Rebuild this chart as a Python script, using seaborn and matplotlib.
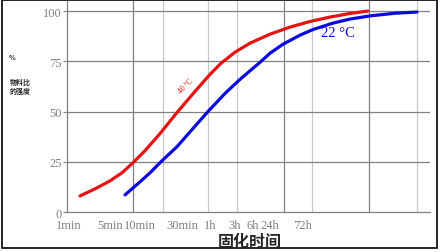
import matplotlib
matplotlib.use("Agg")
import matplotlib.pyplot as plt
import seaborn as sns
import pandas as pd
from matplotlib.patches import Rectangle

# ---- data (x in chart position units along the time axis) ----
red_x = [13, 28, 43, 55, 66, 78, 93, 110, 128, 143, 154, 168, 183, 203, 223, 243, 263, 283, 301]
red_y = [8, 11.5, 15.5, 19.5, 24.5, 30.5, 39, 49.5, 60, 68.5, 74, 79.5, 84, 88.5, 92, 94.8, 97, 98.8, 100]
blue_x = [58, 73, 83, 95, 110, 125, 141, 158, 173, 193, 203, 216, 233, 246, 266, 283, 303, 328, 350]
blue_y = [8.5, 15, 19.5, 25.5, 32.5, 41, 50, 59, 66, 74.5, 79, 83.5, 88, 90.8, 94, 96, 97.6, 98.9, 99.5]

tick_pos = [2, 43, 73, 115, 143, 168, 186, 203, 236]
tick_labels = ["1min", "5min", "10min", "30min", "1h", "3h", "6h", "24h", "72h"]
grid_dark = [66, 217, 302]
grid_light = [96, 141, 170, 245, 350]
y_ticks = [0, 25, 50, 75, 100]

df = pd.concat([
    pd.DataFrame({"x": red_x, "y": red_y, "s": "40 °C"}),
    pd.DataFrame({"x": blue_x, "y": blue_y, "s": "22 °C"}),
])

sns.set_style("white")
plt.rcParams["font.family"] = ["Liberation Serif", "Noto Sans CJK SC", "DejaVu Sans"]

fig = plt.figure(figsize=(4.42, 2.53), dpi=100)
ax = fig.add_axes([67 / 442, 1 - 213 / 253, 363 / 442, 211 / 253])

gray = "#808080"
light = "#c8c8c8"
for g in grid_light:
    ax.axvline(g, color=light, lw=0.9, zorder=1)
for g in grid_dark:
    ax.axvline(g, color=gray, lw=0.9, zorder=1)
for t in y_ticks[1:]:
    ax.axhline(t, color=gray, lw=0.9, zorder=1)

sns.lineplot(data=df, x="x", y="y", hue="s", palette={"40 °C": "#e41414", "22 °C": "#0a0adc"},
             lw=2.3, legend=False, ax=ax, zorder=3, sort=False)

ax.set_xlim(0, 363)
ax.set_ylim(0, 105)
ax.set_xticks(tick_pos)
ax.set_xticklabels(tick_labels)
ax.set_xticks(grid_dark + grid_light, minor=True)
ax.set_yticks(y_ticks)
ax.set_yticklabels([str(v) for v in y_ticks])
ax.tick_params(axis="x", which="major", length=0, pad=5, labelsize=9, labelcolor=gray)
ax.tick_params(axis="x", which="minor", length=2, color=gray, direction="out")
ax.tick_params(axis="y", length=3, color=gray, width=0.8, pad=1, labelsize=9, labelcolor=gray, left=True)
ax.set_xlabel("")
ax.set_ylabel("")
for s in ["top", "right"]:
    ax.spines[s].set_visible(False)
for s in ["left", "bottom"]:
    ax.spines[s].set_color(gray)
    ax.spines[s].set_linewidth(0.9)

ax.text(271, 89.5, "22 °C", color="#0a0adc", fontsize=10.5, ha="center", va="center")
ax.text(119, 63, "40 °C", color="#e41414", fontsize=5.5, ha="center", va="center", rotation=45)

fig.text(12 / 442, 1 - 57 / 253, "%", fontsize=5, fontweight="bold", ha="center", va="center",
         family=["Noto Sans CJK SC", "DejaVu Sans"])
fig.text(20 / 442, 1 - 87 / 253, "物料比\n的强度", fontsize=5, fontweight="bold", ha="center",
         va="center", linespacing=1.4, family=["Noto Sans CJK SC", "DejaVu Sans"])
fig.text(250 / 442, 1 - 242 / 253, "固化时间", fontsize=11.5, fontweight="bold", ha="center",
         va="center", family=["Noto Sans CJK SC", "DejaVu Sans"])

fig.patches.append(Rectangle((2 / 442, 4 / 253), 435 / 442, 248 / 253, transform=fig.transFigure,
                             fill=False, edgecolor="black", lw=1.2))

fig.savefig("out.png", dpi=100)
